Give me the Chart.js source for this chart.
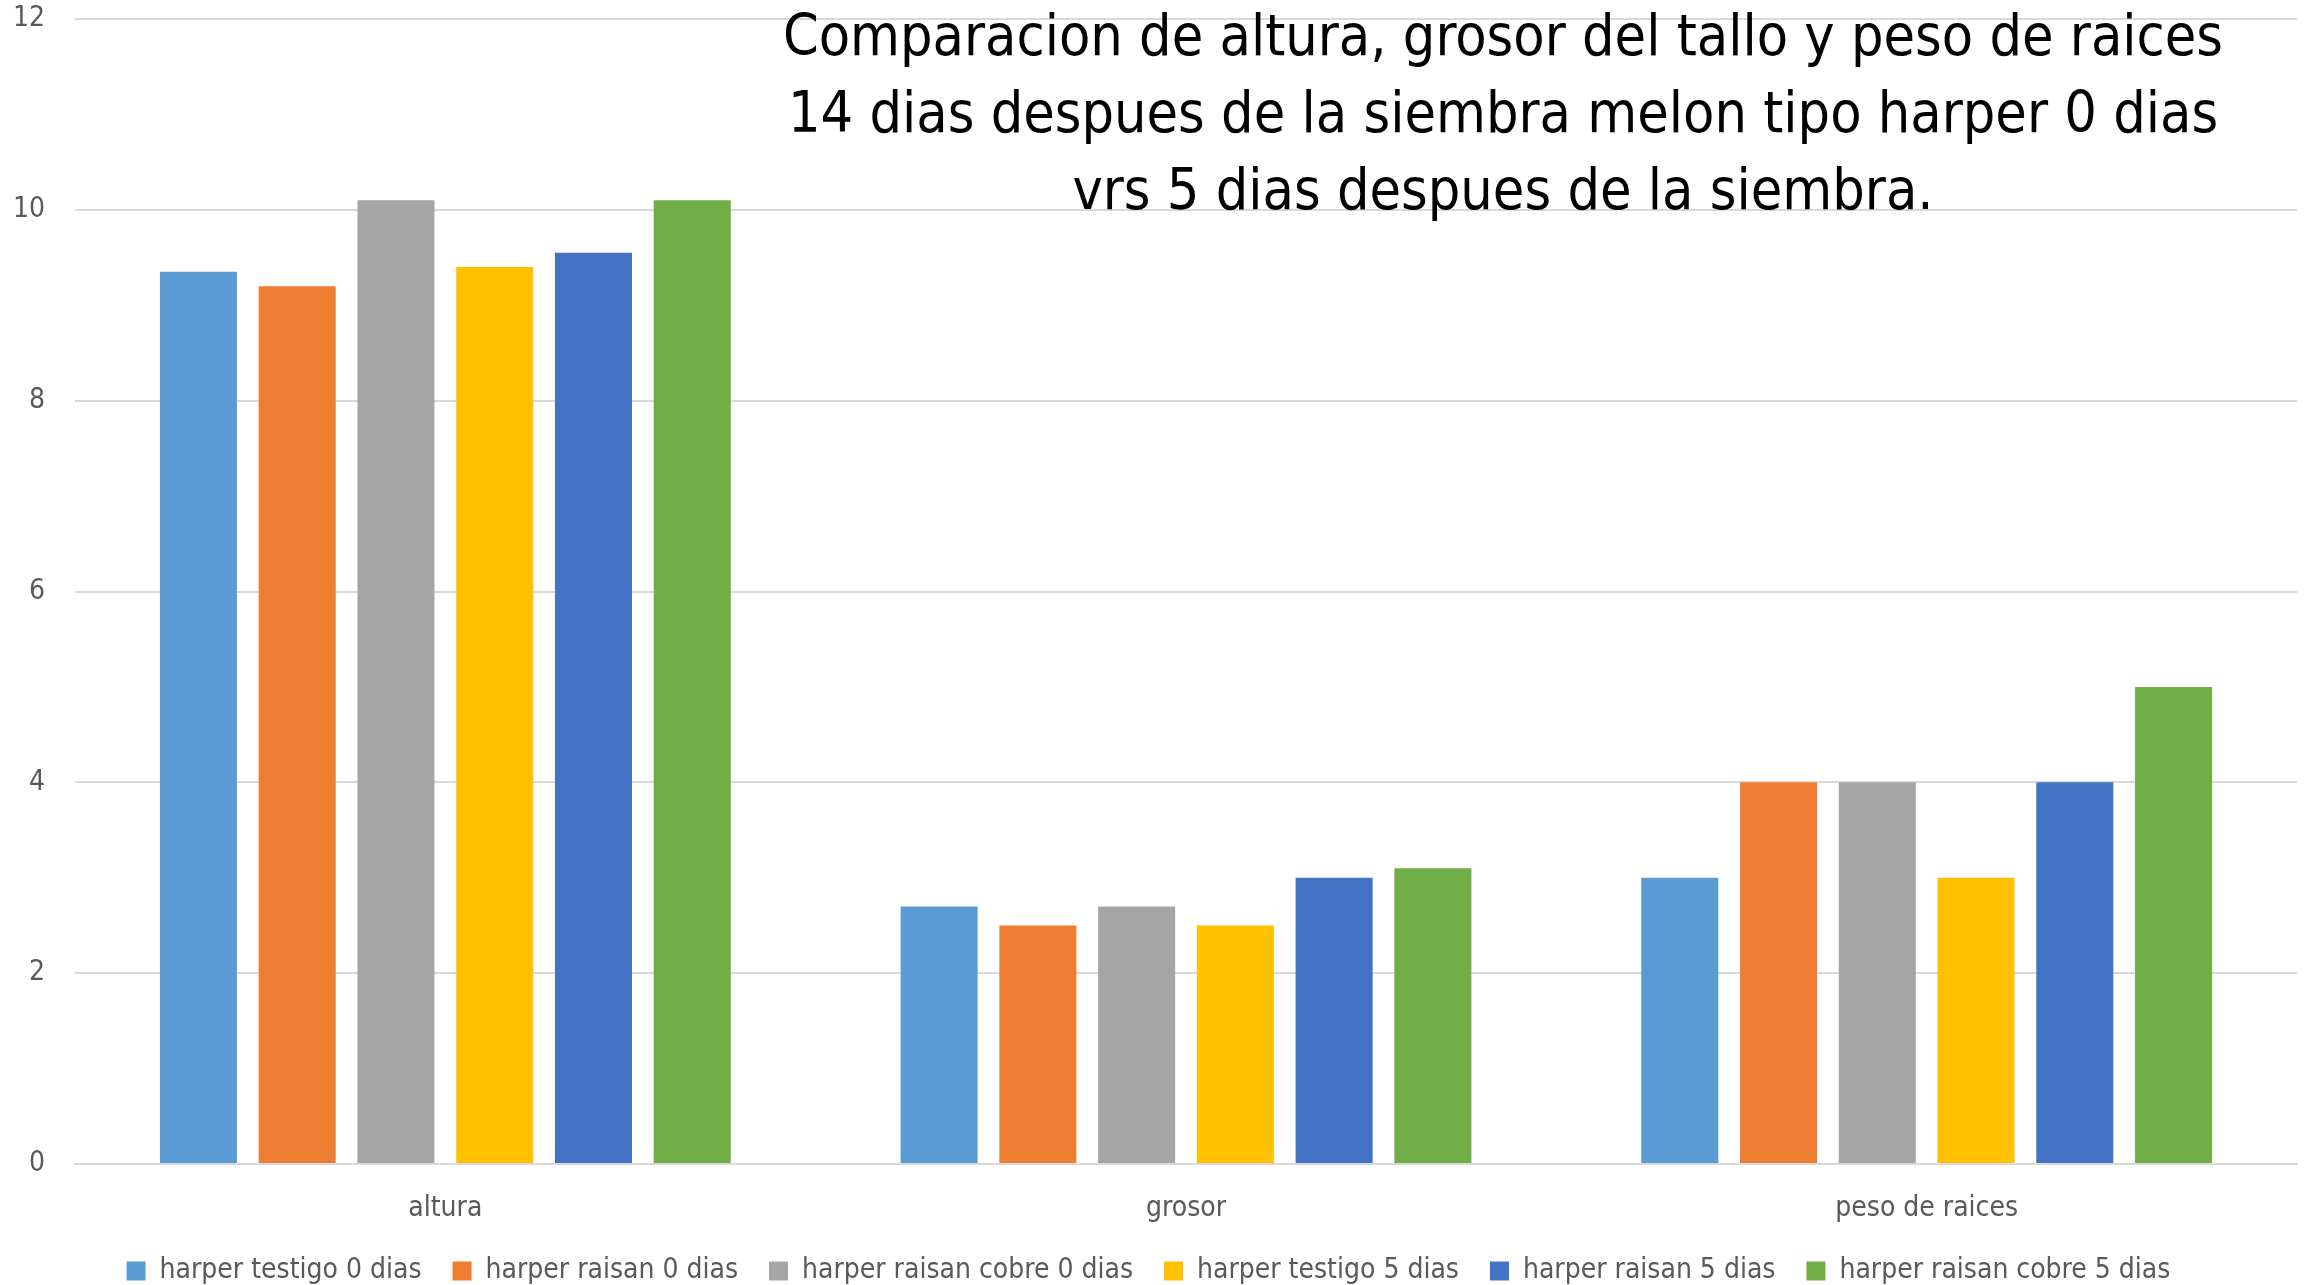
<!DOCTYPE html>
<html>
<head>
<meta charset="utf-8">
<script src="https://cdn.jsdelivr.net/npm/chart.js@4.4.0/dist/chart.umd.min.js"></script>
<style>
  html, body { margin: 0; padding: 0; background: #fff; }
  #wrap { position: relative; width: 2310px; height: 1285px; }
  #title {
    position: absolute;
    left: 760px;
    width: 1486px;
    top: -3px;
    text-align: center;
    font-family: "Liberation Sans Narrow", "DejaVu Sans Condensed", sans-serif;
    font-size: 57px;
    line-height: 77px;
    color: #000;
    pointer-events: none;
  }
</style>
</head>
<body>
<div id="wrap">
  <canvas id="chart" width="2310" height="1285"></canvas>
  <div id="title">Comparacion de altura, grosor del tallo y peso de raices<br>14 dias despues de la siembra melon tipo harper 0 dias<br>vrs 5 dias despues de la siembra.</div>
</div>
<script>
const categories = ["altura", "grosor", "peso de raices"];
const seriesNames = [
  "harper testigo 0 dias",
  "harper raisan 0 dias",
  "harper raisan cobre 0 dias",
  "harper testigo 5 dias",
  "harper raisan 5 dias",
  "harper raisan cobre 5 dias",
];
const testigo0 = [9.35, 2.7, 3];
const raisan0 = [9.2, 2.5, 4];
const raisanCobre0 = [10.1, 2.7, 4];
const testigo5 = [9.4, 2.5, 3];
const raisan5 = [9.55, 3.0, 4];
const raisanCobre5 = [10.1, 3.1, 5];
const yTicks = [0, 2, 4, 6, 8, 10, 12];

const seriesValues = [testigo0, raisan0, raisanCobre0, testigo5, raisan5, raisanCobre5];
const colors = ["#5B9BD5", "#ED7D31", "#A5A5A5", "#FFC000", "#4472C4", "#70AD47"];

const fontFamily = '"Liberation Sans Narrow", "DejaVu Sans Condensed", sans-serif';

const chart = new Chart(document.getElementById("chart"), {
  type: "bar",
  data: {
    labels: categories,
    datasets: seriesNames.map((name, i) => ({
      label: name,
      data: seriesValues[i],
      backgroundColor: colors[i],
      borderWidth: 0,
      categoryPercentage: 0.8,
      barPercentage: 0.78,
    })),
  },
  options: {
    responsive: false,
    animation: false,
    layout: {
      padding: { top: 0, right: 13, left: 0, bottom: -10 },
    },
    scales: {
      x: {
        grid: { display: false, drawTicks: false },
        border: { display: true, color: "#d9d9d9", width: 2 },
        ticks: {
          color: "#595959",
          font: { family: fontFamily, size: 28 },
          padding: 28,
        },
        afterFit: function (scale) {
          scale.height = 62;
        },
      },
      y: {
        min: 0,
        max: 12,
        afterBuildTicks: function (scale) {
          scale.ticks = yTicks.map((v) => ({ value: v }));
        },
        grid: {
          color: "#d9d9d9",
          lineWidth: 2,
          drawTicks: false,
        },
        border: { display: false },
        ticks: {
          color: "#595959",
          font: { family: fontFamily, size: 28 },
          padding: 30,
        },
        afterFit: function (scale) {
          scale.width = 75;
          scale.paddingTop = 19;
          scale.paddingBottom = 0;
        },
      },
    },
    plugins: {
      legend: {
        position: "bottom",
        labels: {
          boxWidth: 19,
          boxHeight: 19,
          padding: 31,
          color: "#595959",
          font: { family: fontFamily, size: 28 },
        },
      },
      tooltip: { enabled: false },
    },
  },
});
</script>
</body>
</html>
